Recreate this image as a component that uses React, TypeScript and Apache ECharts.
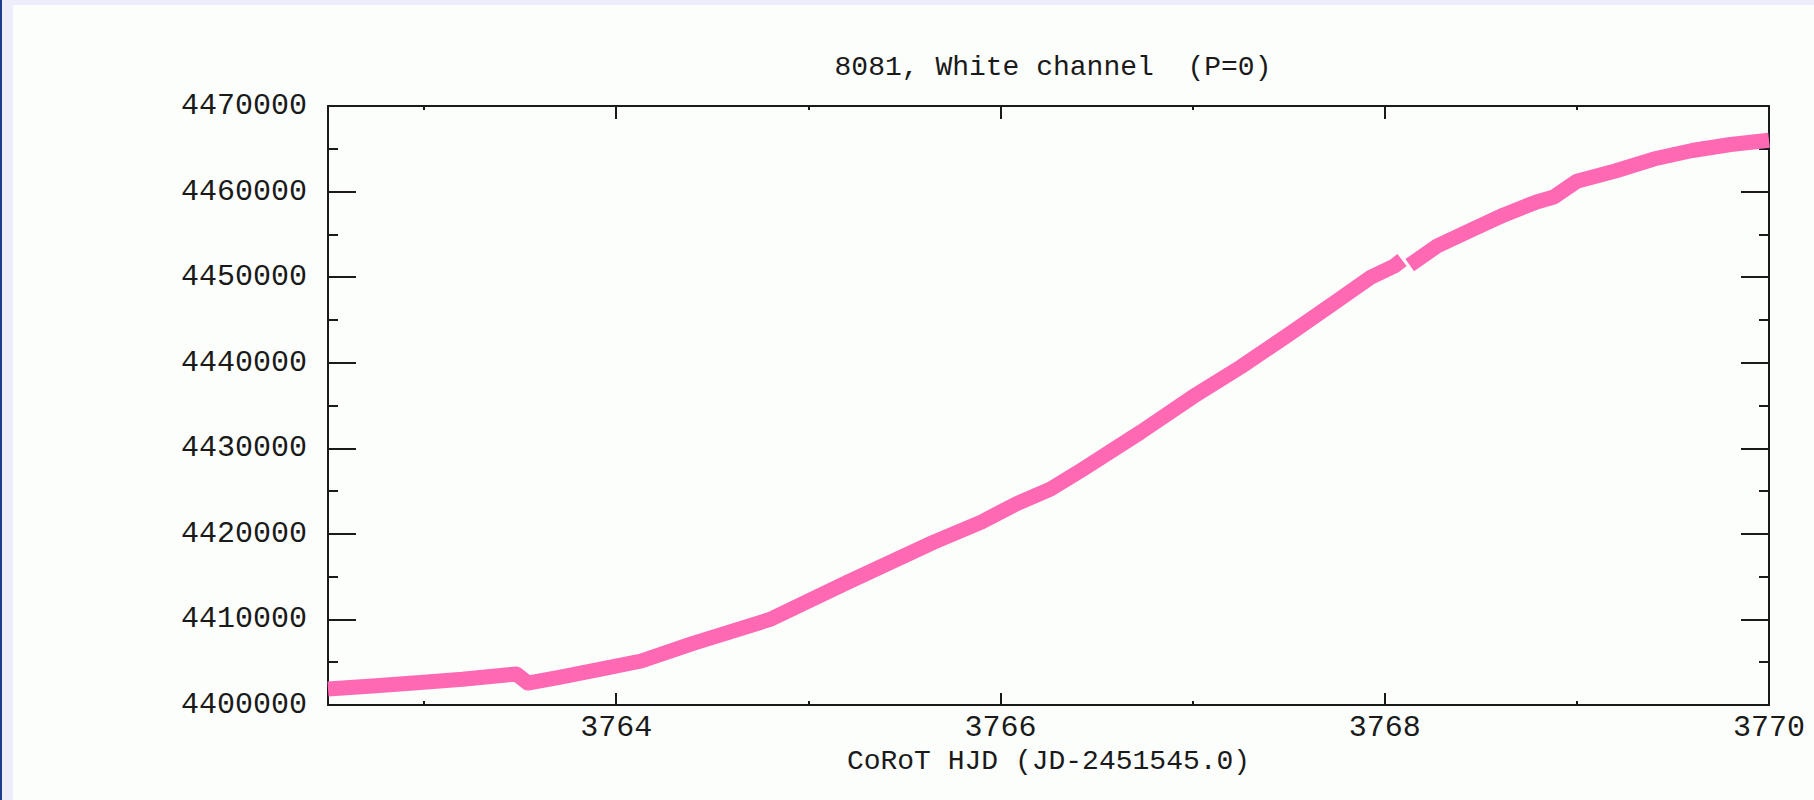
import React, { useEffect, useRef } from "react";
import * as echarts from "echarts";

// ---- data ----
const TITLE = "8081, White channel  (P=0)";
const X_NAME = "CoRoT HJD (JD-2451545.0)";
const X_MIN = 3762.5;
const X_MAX = 3770;
const Y_MIN = 4400000;
const Y_MAX = 4470000;
const xMajorTicks = [3764, 3766, 3768, 3770];
const xMinorTicks = [3763, 3765, 3767, 3769];
const yMajorTicks = [4400000, 4410000, 4420000, 4430000, 4440000, 4450000, 4460000, 4470000];
const yMinorTicks = [4405000, 4415000, 4425000, 4435000, 4445000, 4455000, 4465000];

const hjd = [
  3762.5, 3762.75, 3762.98, 3763.2, 3763.4, 3763.48, 3763.54, 3763.71, 3763.92, 3764.13,
  3764.4, 3764.8, 3765.2, 3765.65, 3765.9, 3766.08, 3766.26, 3766.43, 3766.6, 3766.73,
  3767.0, 3767.25, 3767.5, 3767.75, 3767.93, 3768.05, 3768.09, 3768.11, 3768.13, 3768.27,
  3768.45, 3768.62, 3768.79, 3768.88, 3769.0, 3769.2, 3769.4, 3769.6, 3769.8, 3770.0,
];
const flux = [
  4401870, 4402250, 4402630, 4403000, 4403450, 4403620, 4402570, 4403270, 4404200, 4405140,
  4407200, 4410000, 4414300, 4419000, 4421380, 4423480, 4425230, 4427570, 4430020, 4431890,
  4436000, 4439500, 4443300, 4447200, 4450020, 4451300, 4452000, null, 4451400, 4453600,
  4455510, 4457270, 4458790, 4459370, 4461200, 4462400, 4463800, 4464800, 4465500, 4466000,
];

const FONT = "'Liberation Mono', 'DejaVu Sans Mono', monospace";
const INK = "#1a1a1a";
const PINK = "#FF69B4";

export default function App() {
  const ref = useRef<HTMLDivElement>(null);

  useEffect(() => {
    if (!ref.current) return;
    const chart = echarts.init(ref.current, null, { renderer: "svg" });
    const gridBox = { left: 328, top: 106, right: 45, bottom: 95 };
    const line = { show: true, onZero: false, lineStyle: { color: INK, width: 2 } };
    const tickStyle = { color: INK, width: 2 };
    const noSplit = { show: false };

    const option: any = {
      animation: false,
      backgroundColor: "transparent",
      title: {
        text: TITLE,
        left: 1048,
        top: 48,
        textAlign: "center",
        textStyle: { fontFamily: FONT, fontSize: 28, fontWeight: "normal", color: INK },
      },
      grid: [
        { ...gridBox, containLabel: false },
        { ...gridBox, containLabel: false },
      ],
      xAxis: [
        {
          type: "value",
          gridIndex: 0,
          position: "bottom",
          min: X_MIN,
          max: X_MAX,
          axisLine: line,
          axisTick: { show: true, inside: true, length: 12, customValues: xMajorTicks, lineStyle: tickStyle },
          axisLabel: {
            show: true,
            customValues: xMajorTicks,
            margin: 8,
            fontFamily: FONT,
            fontSize: 30,
            color: INK,
            formatter: (v: number) => String(v),
          },
          splitLine: noSplit,
          name: X_NAME,
          nameLocation: "middle",
          nameGap: 42,
          nameTextStyle: { fontFamily: FONT, fontSize: 28, color: INK },
        },
        {
          type: "value",
          gridIndex: 0,
          position: "top",
          min: X_MIN,
          max: X_MAX,
          axisLine: line,
          axisTick: { show: true, inside: true, length: 13, customValues: xMajorTicks, lineStyle: tickStyle },
          axisLabel: { show: false },
          splitLine: noSplit,
        },
        {
          type: "value",
          gridIndex: 1,
          position: "bottom",
          min: X_MIN,
          max: X_MAX,
          axisLine: { show: false },
          axisTick: { show: true, inside: true, length: 4, customValues: xMinorTicks, lineStyle: tickStyle },
          axisLabel: { show: false },
          splitLine: noSplit,
        },
        {
          type: "value",
          gridIndex: 1,
          position: "top",
          min: X_MIN,
          max: X_MAX,
          axisLine: { show: false },
          axisTick: { show: true, inside: true, length: 4, customValues: xMinorTicks, lineStyle: tickStyle },
          axisLabel: { show: false },
          splitLine: noSplit,
        },
      ],
      yAxis: [
        {
          type: "value",
          gridIndex: 0,
          position: "left",
          min: Y_MIN,
          max: Y_MAX,
          axisLine: line,
          axisTick: { show: true, inside: true, length: 28, customValues: yMajorTicks, lineStyle: tickStyle },
          axisLabel: {
            show: true,
            customValues: yMajorTicks,
            margin: 21,
            fontFamily: FONT,
            fontSize: 30,
            color: INK,
            formatter: (v: number) => String(v),
          },
          splitLine: noSplit,
        },
        {
          type: "value",
          gridIndex: 0,
          position: "right",
          min: Y_MIN,
          max: Y_MAX,
          axisLine: line,
          axisTick: { show: true, inside: true, length: 28, customValues: yMajorTicks, lineStyle: tickStyle },
          axisLabel: { show: false },
          splitLine: noSplit,
        },
        {
          type: "value",
          gridIndex: 1,
          position: "left",
          min: Y_MIN,
          max: Y_MAX,
          axisLine: { show: false },
          axisTick: { show: true, inside: true, length: 10, customValues: yMinorTicks, lineStyle: tickStyle },
          axisLabel: { show: false },
          splitLine: noSplit,
        },
        {
          type: "value",
          gridIndex: 1,
          position: "right",
          min: Y_MIN,
          max: Y_MAX,
          axisLine: { show: false },
          axisTick: { show: true, inside: true, length: 10, customValues: yMinorTicks, lineStyle: tickStyle },
          axisLabel: { show: false },
          splitLine: noSplit,
        },
      ],
      series: [
        {
          type: "line",
          name: "White channel",
          xAxisIndex: 0,
          yAxisIndex: 0,
          data: hjd.map((t, i) => [t, flux[i]]),
          showSymbol: false,
          symbol: "none",
          connectNulls: false,
          clip: true,
          lineStyle: { color: PINK, width: 15, join: "round", cap: "butt" },
          z: 1,
        },
      ],
    };

    chart.setOption(option);
    return () => chart.dispose();
  }, []);

  return (
    <div
      style={{
        position: "absolute",
        left: 0,
        top: 0,
        width: 1814,
        height: 800,
        background: "#EDEDFB",
        overflow: "hidden",
      }}
    >
      <div style={{ position: "absolute", left: 0, top: 0, width: 2, height: 800, background: "#1D3E8A" }} />
      <div style={{ position: "absolute", left: 13, top: 5, right: 0, bottom: 0, background: "#FCFEFC" }} />
      <div ref={ref} style={{ position: "absolute", left: 0, top: 0, width: 1814, height: 800 }} />
    </div>
  );
}
